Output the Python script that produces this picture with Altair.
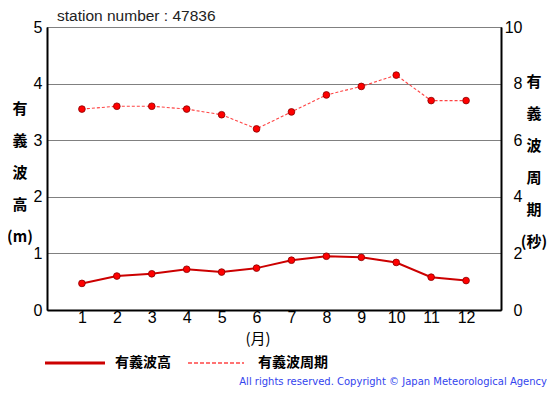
import altair as alt
import pandas as pd

months = list(range(1, 13))
wave_height = [0.47, 0.60, 0.64, 0.72, 0.67, 0.74, 0.88, 0.95, 0.93, 0.84, 0.58, 0.52]
wave_period = [7.1, 7.2, 7.2, 7.1, 6.9, 6.4, 7.0, 7.6, 7.9, 8.3, 7.4, 7.4]
series_names = ["有義波高", "有義波周期"]
left_ticks = [0, 1, 2, 3, 4, 5]
right_ticks = [0, 2, 4, 6, 8, 10]
station_title = "station number : 47836"
left_title = ["有", "義", "波", "高", "(m)"]
right_title = ["有", "義", "波", "周", "期", "(秒)"]
month_unit = "(月)"
copyright_text = "All rights reserved. Copyright © Japan Meteorological Agency"

df = pd.DataFrame({"month": months, "height": wave_height, "period": wave_period})

W, H = 454, 283
LATIN = "Liberation Sans"
CJK = "Noto Sans CJK JP"

xscale = alt.Scale(domain=[0, 13], nice=False, zero=False)
xaxis = alt.Axis(values=months, ticks=False, grid=False, labelFontSize=16, labelColor="black",
                 labelFont=LATIN, labelPadding=7, labelBaseline="middle",
                 domainColor="black", domainWidth=2, title=None, labelAngle=0)

base = alt.Chart(df)

height_axis = alt.Axis(values=left_ticks, orient="left", ticks=False, grid=True, gridColor="#808080",
                       gridWidth=1, labelFontSize=16, labelColor="black", labelFont=LATIN,
                       labelPadding=5, domainColor="black", domainWidth=2, title=None)
period_axis = alt.Axis(values=right_ticks, orient="right", ticks=False, grid=False,
                       labelFontSize=16, labelColor="black", labelFont=LATIN, labelAlign="right",
                       labelPadding=21, domainColor="black", domainWidth=2, title=None)

h_enc = dict(x=alt.X("month:Q", scale=xscale, axis=xaxis),
             y=alt.Y("height:Q", scale=alt.Scale(domain=[0, 5], nice=False), axis=height_axis))
p_enc = dict(x=alt.X("month:Q", scale=xscale, axis=xaxis),
             y=alt.Y("period:Q", scale=alt.Scale(domain=[0, 10], nice=False), axis=period_axis))

h_line = base.mark_line(color="#cc0000", strokeWidth=2).encode(**h_enc)
h_pts = base.mark_point(filled=True, fill="#ff0000", stroke="#880000", strokeWidth=0.8,
                        size=45, opacity=1, shape="circle").encode(**h_enc)
p_line = base.mark_line(color="#ff4444", strokeWidth=1.1, strokeDash=[3, 2]).encode(**p_enc)
p_pts = base.mark_point(filled=True, fill="#ff0000", stroke="#880000", strokeWidth=0.8,
                        size=45, opacity=1, shape="circle").encode(**p_enc)

heights_layer = alt.layer(h_line, h_pts)
period_layer = alt.layer(p_line, p_pts)

ann = alt.Chart(pd.DataFrame({"a": [0]}))

def txt(text, x, y, size, font=LATIN, weight="normal", align="left", baseline="middle",
        color="black", line_height=None):
    kw = dict(fontSize=size, font=font, fontWeight=weight, align=align, baseline=baseline,
              color=color, clip=False)
    if line_height is not None:
        kw["lineHeight"] = line_height
    return ann.mark_text(**kw).encode(text=alt.value(text), x=alt.value(x), y=alt.value(y))

title_t = txt(station_title, 10, -11, 15.5, color="#222222")
left_t = txt(left_title, -27, 75, 15, font=CJK, weight="bold", align="center",
             baseline="top", line_height=32)
right_t = txt(right_title, 487, 48, 15, font=CJK, weight="bold", align="center",
              baseline="top", line_height=32)
month_t = txt(month_unit, 211, 312, 15, font=CJK, weight="normal", align="center")
copy_t = txt(copyright_text, 500, 355, 10, font="DejaVu Sans", align="right", color="#3344ee")

leg1_line = ann.mark_rule(color="#cc0000", strokeWidth=3, clip=False).encode(
    x=alt.value(-2), x2=alt.value(58), y=alt.value(336))
leg2_line = ann.mark_rule(color="#ff4444", strokeWidth=1.5, strokeDash=[4, 2], clip=False).encode(
    x=alt.value(141), x2=alt.value(197), y=alt.value(336))
leg1_t = txt(series_names[0], 68, 336, 14, font=CJK, weight="bold")
leg2_t = txt(series_names[1], 211, 336, 14, font=CJK, weight="bold")

chart = alt.layer(
    heights_layer, period_layer,
    title_t, left_t, right_t, month_t, copy_t, leg1_line, leg2_line, leg1_t, leg2_t
).resolve_scale(y="independent").properties(
    width=W, height=H,
    autosize=alt.AutoSizeParams(type="none"),
    padding={"left": 39, "top": 19, "right": 46, "bottom": 77},
    background="white",
).configure_view(stroke="black", strokeWidth=1)

chart.save("out.html", embed_options={"renderer": "svg", "actions": False})
